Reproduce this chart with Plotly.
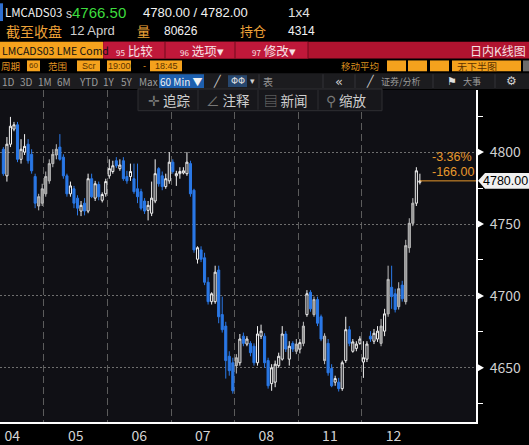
import plotly.graph_objects as go

# ---------------- data ----------------
days = ["04", "05", "06", "07", "08", "11", "12"]
bars_per_day = [12, 18, 18, 18, 18, 18, 17]
session_slots = 18

open_ = [4802, 4783.5, 4805.5, 4816, 4819, 4795, 4800, 4805.5, 4798.5, 4783, 4762.5, 4764.5,
         4771, 4780, 4792, 4798, 4803.5, 4796.5, 4783.5, 4771, 4774.5, 4768, 4759, 4764.5, 4759, 4781.5, 4768, 4777.5, 4766.5, 4771,
         4783.5, 4786.5, 4794, 4788.5, 4794, 4783, 4783, 4781.5, 4774.5, 4772.5, 4766, 4759.5, 4757.5, 4766, 4788.5, 4783.5, 4776, 4780,
         4793, 4783.5, 4785, 4785.5, 4785, 4792, 4773.5, 4725.5, 4732, 4726.5, 4709.5, 4696, 4696, 4718, 4687, 4679, 4658, 4653.5,
         4651.5, 4653.5, 4672, 4666.5, 4667, 4665, 4653.5, 4672, 4672, 4655, 4639, 4640, 4651.5, 4656, 4673.5, 4656, 4667, 4661.5,
         4663, 4667, 4687, 4702.5, 4687, 4697.5, 4685.5, 4672, 4667, 4649.5, 4640, 4640, 4635.5, 4655, 4676.5, 4661.5, 4663.5, 4667,
         4654, 4656, 4672, 4668.5, 4670, 4667, 4675.5, 4687.5, 4706, 4701.5, 4692.5, 4707.5, 4696, 4733.5, 4750.5, 4764.5, 4779]
high = [4803.5, 4810.5, 4824.5, 4821, 4821, 4809, 4812.5, 4809, 4802, 4785, 4771, 4778,
        4786.5, 4795, 4802, 4805.5, 4812.5, 4798.5, 4785, 4779.5, 4776.5, 4770, 4766, 4768, 4785, 4785, 4780, 4779.5, 4772, 4781.5,
        4795, 4794, 4796.5, 4795, 4796.5, 4787, 4792, 4792, 4792, 4774.5, 4768, 4766, 4779.5, 4795, 4789.5, 4786.5, 4785, 4800,
        4795, 4787, 4789.5, 4789.5, 4800, 4794, 4774.5, 4734.5, 4734.5, 4730, 4713, 4702.5, 4721, 4721, 4699.5, 4682, 4661.5, 4657,
        4659.5, 4673.5, 4674.5, 4672, 4668.5, 4667, 4679, 4680, 4674, 4657, 4652.5, 4655, 4660.5, 4679, 4675.5, 4668.5, 4668.5, 4670,
        4670, 4682, 4704, 4704, 4699.5, 4699.5, 4687, 4674, 4670, 4652.5, 4644.5, 4643, 4655, 4685.5, 4679, 4670, 4668.5, 4672,
        4668.5, 4668.5, 4675.5, 4677, 4679, 4684, 4691, 4721, 4721, 4705, 4709.5, 4710.5, 4739, 4754, 4768, 4789.5, 4785]
low = [4783.5, 4779.5, 4803.5, 4814.5, 4793, 4792, 4798, 4792, 4785, 4761, 4759.5, 4762.5,
       4769, 4778, 4789.5, 4795, 4794, 4781.5, 4769, 4769, 4761, 4756, 4755.5, 4756, 4757.5, 4768, 4766, 4766.5, 4765, 4769,
       4781.5, 4785, 4789, 4787, 4780, 4778, 4780, 4771, 4764.5, 4759.5, 4757, 4752.5, 4755.5, 4764.5, 4776, 4773.5, 4774.5, 4778,
       4785, 4776.5, 4781.5, 4784.5, 4783.5, 4769, 4730, 4722.5, 4723.5, 4707.5, 4694, 4694, 4694.5, 4681, 4674.5, 4642.5, 4644.5, 4632,
       4646, 4651.5, 4665, 4665, 4658, 4651.5, 4651.5, 4670, 4650, 4635.5, 4634, 4636.5, 4650, 4655, 4661, 4651.5, 4661, 4659.5,
       4660, 4665, 4685.5, 4689, 4685.5, 4679, 4668.5, 4652.5, 4644.5, 4636.5, 4637.5, 4633.5, 4634, 4653.5, 4665, 4660.5, 4661.5, 4666,
       4643, 4654, 4668, 4666.5, 4668, 4665, 4672, 4685.5, 4691, 4688.5, 4690.5, 4696, 4694, 4730, 4748.5, 4762.5, 4777.5]
close = [4785, 4805.5, 4818, 4819, 4795, 4802, 4804, 4794, 4787, 4764.5, 4769, 4774.5,
         4783, 4792, 4798.5, 4802, 4795, 4783.5, 4771, 4776.5, 4764.5, 4761, 4763, 4759, 4781.5, 4769, 4778, 4769, 4770.5, 4779.5,
         4788.5, 4790.5, 4790.5, 4791, 4781.5, 4780, 4786.5, 4772.5, 4769, 4761, 4759, 4763, 4768, 4785, 4778, 4776, 4781.5, 4793,
         4786.5, 4785, 4786.5, 4787, 4793, 4771, 4732, 4733.5, 4725.5, 4709.5, 4696, 4701.5, 4716.5, 4685.5, 4676.5, 4655, 4648, 4634,
         4657, 4670, 4667, 4670, 4660.5, 4653.5, 4673.5, 4675.5, 4653.5, 4637.5, 4650, 4652.5, 4658, 4673.5, 4663, 4665, 4663, 4666.5,
         4667.5, 4679, 4701.5, 4691, 4697.5, 4681, 4670, 4655, 4646.5, 4637.5, 4642.5, 4635.5, 4653.5, 4676.5, 4667, 4668, 4666.5, 4670,
         4657, 4666.5, 4670, 4674, 4675.5, 4679, 4687.5, 4711.5, 4699.5, 4690.5, 4705, 4698, 4735, 4750.5, 4764.5, 4787, 4780]
# bars the terminal shades grey (1-based bar numbers)
gray_bars = [11, 12, 13, 14, 15, 16, 67, 84, 86, 89, 92, 108, 110, 113, 115, 116, 117]

y_ticks = [4650, 4700, 4750, 4800]
y_minor = [4625, 4675, 4725, 4775, 4825]
change_abs = "-166.00"
change_pct = "-3.36%"

# ---------------- layout geometry ----------------
W, H = 529, 445
ML, MR, MT, MB = 0, 53, 90, 18
PW, PH = W - ML - MR, H - MT - MB
YLO, YHI = 4612.3, 4843.2
XLO, XHI = 0.04, 134.9

def X(px):
    return (px - ML) / PW

def Y(py):
    return 1 - (py - MT) / PH

def price_py(v):
    return MT + (YHI - v) / (YHI - YLO) * PH

PLOT_BG = "#101015"
BLUE = "#2a78e6"
WHITE = "#f2f2f2"
ORANGE = "#f5a21d"
ORANGE_T = "#eea238"
NUM = "Liberation Sans, Arial, sans-serif"
LAT = "Noto Sans CJK SC, Liberation Sans, sans-serif"
CJK = "Noto Sans CJK SC, Liberation Sans, sans-serif"
SYM = "DejaVu Sans"

n = len(close)
xs = list(range(1, n + 1))
main = [i for i in xs if i not in gray_bars]
grey = [i for i in xs if i in gray_bars]

def pick(arr, idx):
    return [arr[i - 1] for i in idx]

# day boundaries and label positions
bounds = []
acc = 0
for nb in bars_per_day[:-1]:
    acc += nb
    bounds.append(acc + 0.5)
label_x = [b - session_slots / 2 for b in bounds] + [bounds[-1] + session_slots / 2]

fig = go.Figure()
fig.add_trace(go.Candlestick(
    x=main, open=pick(open_, main), high=pick(high, main), low=pick(low, main), close=pick(close, main),
    increasing=dict(line=dict(color=WHITE, width=1), fillcolor=PLOT_BG),
    decreasing=dict(line=dict(color=BLUE, width=1), fillcolor=BLUE),
    whiskerwidth=0, hoverinfo="skip", showlegend=False))
fig.add_trace(go.Candlestick(
    x=grey, open=pick(open_, grey), high=pick(high, grey), low=pick(low, grey), close=pick(close, grey),
    increasing=dict(line=dict(color="#bdbdbd", width=1), fillcolor="#8f8f8f"),
    decreasing=dict(line=dict(color="#bdbdbd", width=1), fillcolor="#8f8f8f"),
    whiskerwidth=0, hoverinfo="skip", showlegend=False))

shapes = []
ann = []

def rect(x0, y0, x1, y1, color, line=None, layer="above"):
    shapes.append(dict(type="rect", xref="paper", yref="paper", x0=X(x0), x1=X(x1), y0=Y(y1), y1=Y(y0),
                       fillcolor=color, line=dict(width=1 if line else 0, color=line or color), layer=layer))

def vline(px, y0, y1, color):
    shapes.append(dict(type="line", xref="paper", yref="paper", x0=X(px), x1=X(px), y0=Y(y1), y1=Y(y0),
                       line=dict(width=1, color=color), layer="above"))

def txt(px, py, s, color, size, anchor="left", family=LAT):
    ann.append(dict(xref="paper", yref="paper", x=X(px), y=Y(py), text=s, showarrow=False,
                    xanchor=anchor, yanchor="middle", borderpad=0,
                    font=dict(color=color, size=size, family=family)))

# arrow heads on the price axis at each labelled tick
for v in y_ticks:
    pv = price_py(v)
    tri = "M {} {} L {} {} L {} {} Z".format(X(477), Y(pv - 4), X(484), Y(pv), X(477), Y(pv + 4))
    shapes.append(dict(type="path", xref="paper", yref="paper", path=tri, fillcolor="#ffffff",
                       line=dict(width=0), layer="above"))

# ---- row 1
rect(0, 2, 3, 20, "#2f6fd0")
txt(4, 11, "LMCADS03", WHITE, 11.5)
txt(65, 11.5, "s<span style='color:#3ddc3d;font-size:15px'>4766.50</span>", "#d8d8d8", 12, family=NUM)
txt(142, 11, "4780.00 / 4782.00", WHITE, 13, family=NUM)
txt(287, 11, "1x4", "#e0e0e0", 13.5, family=NUM)
# ---- row 2
txt(5, 30, "截至收盘", ORANGE_T, 14, family=CJK)
txt(69, 30, "12 Aprd", "#d0d0d0", 13, family=NUM)
txt(136, 30, "量", ORANGE_T, 13, family=CJK)
txt(163, 30, "80626", WHITE, 12, family=NUM)
txt(239, 30, "持仓", ORANGE_T, 13, family=CJK)
txt(287, 30, "4314", WHITE, 12, family=NUM)
# ---- row 3
rect(0, 41, 103, 58, ORANGE)
txt(1, 49.5, "LMCADS03 LME Comd", "#111111", 10.5)
rect(103, 41, 529, 58, "#b0132f")
rect(104, 41, 308, 58, "#c0183a")
for sx in (165, 235, 308):
    vline(sx, 41, 58, "#6e0b1d")
BTN = "#f6e1e4"
txt(115, 49.5, "<span style='font-size:8px'>95</span> 比较", BTN, 12.5, family=CJK)
txt(179, 49.5, "<span style='font-size:8px'>96</span> 选项▾", BTN, 12.5, family=CJK)
txt(251, 49.5, "<span style='font-size:8px'>97</span> 修改▾", BTN, 12.5, family=CJK)
txt(527, 49.5, "日内K线图", BTN, 12, anchor="right", family=CJK)
# ---- row 4
BOXT = "#5a3300"
txt(0, 66, "周期", "#e39522", 9.5, family=CJK)
rect(27, 60, 40, 71, ORANGE)
txt(33.5, 65.5, "60", BOXT, 8, anchor="center", family=NUM)
txt(47, 66, "范围", "#e39522", 9.5, family=CJK)
rect(77, 60, 100, 71, ORANGE)
txt(88.5, 65.5, "Scr", BOXT, 9, anchor="center", family=NUM)
rect(107, 60, 131, 71, ORANGE)
txt(119, 65.5, "19:00", BOXT, 9, anchor="center", family=NUM)
txt(144, 65.5, "-", "#e39522", 9, anchor="center", family=NUM)
rect(150, 60, 182, 71, ORANGE)
txt(166, 65.5, "18:45", BOXT, 9, anchor="center", family=NUM)
txt(340, 66, "移动平均", "#d88e1e", 9.5, family=CJK)
for bx0, bx1 in ((387, 406), (408, 427), (430, 449)):
    rect(bx0, 60, bx1, 71, ORANGE)
rect(452, 60, 521, 71, ORANGE)
txt(456, 66, "无下半图", BOXT, 10, family=CJK)
rect(523, 60, 529, 71, "#6c6c6c")
# ---- row 5
rect(0, 73, 529, 89, "#1c1c1f")
GR = "#9b9b9b"
for lab, cx in (("1D", 8), ("3D", 26), ("1M", 45), ("6M", 64), ("YTD", 88), ("1Y", 109), ("5Y", 127), ("Max", 148)):
    txt(cx, 81, lab, GR, 10, anchor="center")
rect(159, 74, 204, 88, "#1d5fae")
txt(181.5, 81, "60 Min ▼", WHITE, 10, anchor="center")
txt(217, 81, "╱", "#c8c8c8", 11, anchor="center", family=SYM)
rect(228, 75, 247, 87, "#27476e")
txt(237.5, 81, "ΦΦ", "#e0e0e0", 9, anchor="center", family=SYM)
txt(252, 81, "▾", "#d0d0d0", 9, anchor="center", family=SYM)
for sx in (259, 323, 355, 433, 495):
    vline(sx, 74, 88, "#333338")
txt(268, 81, "表", GR, 10, anchor="center", family=CJK)
txt(339, 81, "«", "#d0d0d0", 13, anchor="center", family=SYM)
txt(370, 81, "╱", "#c8c8c8", 11, anchor="center", family=SYM)
txt(380, 81, "证券/分析", GR, 9, family=CJK)
txt(452, 81, "⚑", "#e0e0e0", 11, anchor="center", family=SYM)
txt(462, 81, "大事", GR, 9, family=CJK)
txt(511, 81, "⚙", "#d0d0d0", 12, anchor="center", family=SYM)
# ---- toolbar floating on the chart
rect(138, 89, 382, 111, "#17171b", line="#2e2e33")
for sx in (198, 258, 318):
    vline(sx, 90, 110, "#2e2e33")
TB = "#cfcfcf"
txt(147, 100, "<span style='color:#777'>✛</span> 追踪", TB, 13.5, family=CJK)
txt(205, 100, "<span style='color:#777'>∠</span> 注释", TB, 13.5, family=CJK)
txt(263, 100, "<span style='color:#777'>▤</span> 新闻", TB, 13.5, family=CJK)
txt(325, 100, "<span style='color:#777'>⚲</span> 缩放", TB, 13.5, family=CJK)

# ---- last price marker
last = close[-1]
py_last = price_py(last)
shapes.append(dict(type="line", xref="x", yref="y", x0=xs[-1], x1=XHI, y0=last, y1=last,
                   line=dict(color="#e8982c", width=1), layer="above"))
path = "M {} {} L {} {} L {} {} L {} {} L {} {} Z".format(
    X(478), Y(py_last), X(485), Y(py_last - 8), X(529), Y(py_last - 8), X(529), Y(py_last + 8), X(485), Y(py_last + 8))
shapes.append(dict(type="path", xref="paper", yref="paper", path=path, fillcolor="#f0f0f0",
                   line=dict(width=0), layer="above"))
txt(505.5, py_last, f"{last:.2f}", "#000000", 12.5, anchor="center", family=NUM)
txt(473, py_last - 24, change_pct, "#e8982c", 12.5, anchor="right", family=NUM)
txt(475, py_last - 9.5, change_abs, "#e8982c", 12.5, anchor="right", family=NUM)

fig.update_layout(
    width=W, height=H, autosize=False,
    margin=dict(l=ML, r=MR, t=MT, b=MB, pad=0),
    paper_bgcolor="#000000", plot_bgcolor=PLOT_BG,
    showlegend=False, hovermode=False, boxgap=0.15,
    shapes=shapes, annotations=ann,
    xaxis=dict(range=[XLO, XHI], rangeslider=dict(visible=False), showgrid=False, zeroline=False,
               tickmode="array", tickvals=label_x, ticktext=days, ticks="",
               tickfont=dict(color="#d4d4d4", size=14, family=LAT),
               showline=True, linecolor="#ffffff", linewidth=2, fixedrange=True,
               minor=dict(tickmode="array", tickvals=bounds, showgrid=True, gridcolor="#5c5c5c",
                          griddash="7px,4px", gridwidth=1, ticks="")),
    yaxis=dict(range=[YLO, YHI], side="right", zeroline=False,
               tickmode="array", tickvals=y_ticks, ticktext=[str(v) for v in y_ticks],
               ticks="", ticklabelstandoff=9, tickfont=dict(color="#d0d0d0", size=14, family=LAT),
               showgrid=True, gridcolor="#6e6e6e", griddash="2px,2px", gridwidth=1,
               showline=True, linecolor="#ffffff", linewidth=2, fixedrange=True,
               minor=dict(tickmode="array", tickvals=y_minor, ticks="outside", ticklen=5,
                          tickcolor="#ffffff", tickwidth=1, showgrid=False)),
)

fig.write_html("out.html", config={"displayModeBar": False},
               post_script="document.body.style.margin='0';document.body.style.background='#000';")
